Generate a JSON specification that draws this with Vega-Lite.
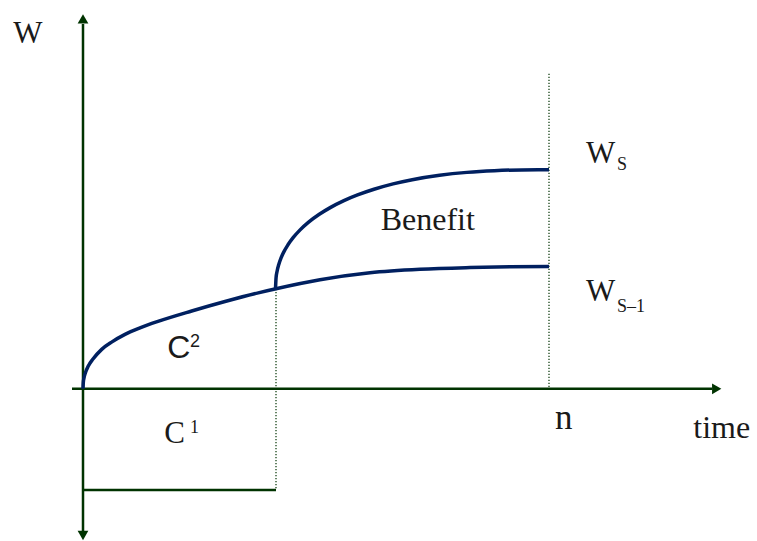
{
  "$schema": "https://vega.github.io/schema/vega-lite/v6.json",
  "width": 757,
  "height": 541,
  "padding": 0,
  "autosize": {"type": "fit", "contains": "padding"},
  "background": "white",
  "config": {"view": {"stroke": null}},
  "datasets": {
    "curves": [
      {"series": "WS1", "t": 0, "w": 0},
      {"series": "WS1", "t": 0.3, "w": 6.3},
      {"series": "WS1", "t": 1, "w": 10.8},
      {"series": "WS1", "t": 2.5, "w": 16.3},
      {"series": "WS1", "t": 5.3, "w": 22.8},
      {"series": "WS1", "t": 10, "w": 29.8},
      {"series": "WS1", "t": 18.7, "w": 39.5},
      {"series": "WS1", "t": 29, "w": 47.0},
      {"series": "WS1", "t": 42, "w": 54.5},
      {"series": "WS1", "t": 57, "w": 61.0},
      {"series": "WS1", "t": 75, "w": 67.5},
      {"series": "WS1", "t": 108.7, "w": 77.9},
      {"series": "WS1", "t": 142, "w": 87.4},
      {"series": "WS1", "t": 175.3, "w": 96.1},
      {"series": "WS1", "t": 193, "w": 100.2},
      {"series": "WS1", "t": 237, "w": 109.2},
      {"series": "WS1", "t": 287, "w": 116.2},
      {"series": "WS1", "t": 337, "w": 119.7},
      {"series": "WS1", "t": 387, "w": 121.4},
      {"series": "WS1", "t": 427, "w": 122.2},
      {"series": "WS1", "t": 466, "w": 122.6},
      {"series": "WS", "t": 192.5, "w": 100},
      {"series": "WS", "t": 193.05, "w": 111.0},
      {"series": "WS", "t": 194.14, "w": 118.0},
      {"series": "WS", "t": 195.78, "w": 124.6},
      {"series": "WS", "t": 197.97, "w": 130.8},
      {"series": "WS", "t": 200.7, "w": 136.9},
      {"series": "WS", "t": 204.8, "w": 144.0},
      {"series": "WS", "t": 210.3, "w": 151.6},
      {"series": "WS", "t": 217.1, "w": 159.2},
      {"series": "WS", "t": 225.3, "w": 166.7},
      {"series": "WS", "t": 236.3, "w": 174.8},
      {"series": "WS", "t": 247.2, "w": 181.5},
      {"series": "WS", "t": 260.9, "w": 188.5},
      {"series": "WS", "t": 274.55, "w": 194.2},
      {"series": "WS", "t": 291.0, "w": 199.9},
      {"series": "WS", "t": 310.1, "w": 205.3},
      {"series": "WS", "t": 329.25, "w": 209.5},
      {"series": "WS", "t": 356.6, "w": 213.9},
      {"series": "WS", "t": 383.95, "w": 216.8},
      {"series": "WS", "t": 411.3, "w": 218.5},
      {"series": "WS", "t": 438.65, "w": 219.3},
      {"series": "WS", "t": 466, "w": 219.5}
    ],
    "solidRules": [
      {"t": 0, "t2": 0, "w": 365.5, "w2": -142.5},
      {"t": -11, "t2": 629, "w": 0, "w2": 0},
      {"t": 0, "t2": 193, "w": -101.5, "w2": -101.5}
    ],
    "dottedRules": [
      {"t": 193, "t2": 193, "w": 100, "w2": -101.5},
      {"t": 466, "t2": 466, "w": 315.5, "w2": 0}
    ],
    "arrows": [
      {"t": 0, "w": 370.5, "dir": "up"},
      {"t": 0, "w": -147, "dir": "down"},
      {"t": 633.7, "w": 0, "dir": "right"}
    ],
    "serifBig": [
      {"t": -69.7, "w": 346.2, "label": "W"},
      {"t": 503, "w": 226.5, "label": "W"},
      {"t": 503, "w": 87.8, "label": "W"},
      {"t": 81.3, "w": -54.8, "label": "C"}
    ],
    "serifSmall": [
      {"t": 534, "w": 219.5, "label": "S"},
      {"t": 534, "w": 76.5, "label": "S–1"},
      {"t": 107, "w": -44.5, "label": "1"}
    ],
    "words": [
      {"t": 297.7, "w": 159.5, "label": "Benefit"},
      {"t": 610.3, "w": -49.5, "label": "time"}
    ],
    "nLabel": [
      {"t": 472, "w": -40.5, "label": "n"}
    ],
    "sansBig": [
      {"t": 84.3, "w": 31.2, "label": "C"}
    ],
    "sansSmall": [
      {"t": 107, "w": 41.8, "label": "2"}
    ]
  },
  "layer": [
    {
      "data": {"name": "solidRules"},
      "mark": {"type": "rule", "color": "#003300", "strokeWidth": 2.5},
      "encoding": {
        "x": {"field": "t", "type": "quantitative", "scale": {"domain": [-83, 674], "nice": false, "zero": false}, "axis": null},
        "x2": {"field": "t2"},
        "y": {"field": "w", "type": "quantitative", "scale": {"domain": [-151.5, 389.5], "nice": false, "zero": false}, "axis": null},
        "y2": {"field": "w2"}
      }
    },
    {
      "data": {"name": "dottedRules"},
      "mark": {"type": "rule", "color": "#003300", "strokeWidth": 1.2, "strokeDash": [1.2, 1.8]},
      "encoding": {
        "x": {"field": "t", "type": "quantitative", "axis": null},
        "x2": {"field": "t2"},
        "y": {"field": "w", "type": "quantitative", "axis": null},
        "y2": {"field": "w2"}
      }
    },
    {
      "data": {"name": "curves"},
      "mark": {"type": "line", "color": "#002060", "strokeWidth": 3.5, "interpolate": "monotone", "strokeCap": "butt"},
      "encoding": {
        "x": {"field": "t", "type": "quantitative", "axis": null},
        "y": {"field": "w", "type": "quantitative", "axis": null},
        "detail": {"field": "series"},
        "order": {"field": "t", "type": "quantitative"}
      }
    },
    {
      "data": {"name": "arrows"},
      "mark": {"type": "point", "filled": true, "opacity": 1, "color": "#003300", "size": 115},
      "encoding": {
        "x": {"field": "t", "type": "quantitative", "axis": null},
        "y": {"field": "w", "type": "quantitative", "axis": null},
        "shape": {"field": "dir", "type": "nominal", "scale": {"domain": ["up", "down", "right"], "range": ["triangle-up", "triangle-down", "triangle-right"]}, "legend": null}
      }
    },
    {
      "data": {"name": "serifBig"},
      "mark": {"type": "text", "font": "Liberation Serif", "fontSize": 31, "color": "#1a1a1a", "align": "left", "baseline": "alphabetic"},
      "encoding": {
        "x": {"field": "t", "type": "quantitative", "axis": null},
        "y": {"field": "w", "type": "quantitative", "axis": null},
        "text": {"field": "label"}
      }
    },
    {
      "data": {"name": "serifSmall"},
      "mark": {"type": "text", "font": "Liberation Serif", "fontSize": 18, "color": "#1a1a1a", "align": "left", "baseline": "alphabetic"},
      "encoding": {
        "x": {"field": "t", "type": "quantitative", "axis": null},
        "y": {"field": "w", "type": "quantitative", "axis": null},
        "text": {"field": "label"}
      }
    },
    {
      "data": {"name": "words"},
      "mark": {"type": "text", "font": "Liberation Serif", "fontSize": 32, "color": "#1a1a1a", "align": "left", "baseline": "alphabetic"},
      "encoding": {
        "x": {"field": "t", "type": "quantitative", "axis": null},
        "y": {"field": "w", "type": "quantitative", "axis": null},
        "text": {"field": "label"}
      }
    },
    {
      "data": {"name": "nLabel"},
      "mark": {"type": "text", "font": "Liberation Serif", "fontSize": 35, "color": "#1a1a1a", "align": "left", "baseline": "alphabetic"},
      "encoding": {
        "x": {"field": "t", "type": "quantitative", "axis": null},
        "y": {"field": "w", "type": "quantitative", "axis": null},
        "text": {"field": "label"}
      }
    },
    {
      "data": {"name": "sansBig"},
      "mark": {"type": "text", "font": "Liberation Sans", "fontSize": 32, "color": "#1a1a1a", "align": "left", "baseline": "alphabetic"},
      "encoding": {
        "x": {"field": "t", "type": "quantitative", "axis": null},
        "y": {"field": "w", "type": "quantitative", "axis": null},
        "text": {"field": "label"}
      }
    },
    {
      "data": {"name": "sansSmall"},
      "mark": {"type": "text", "font": "Liberation Sans", "fontSize": 18, "color": "#1a1a1a", "align": "left", "baseline": "alphabetic"},
      "encoding": {
        "x": {"field": "t", "type": "quantitative", "axis": null},
        "y": {"field": "w", "type": "quantitative", "axis": null},
        "text": {"field": "label"}
      }
    }
  ]
}
